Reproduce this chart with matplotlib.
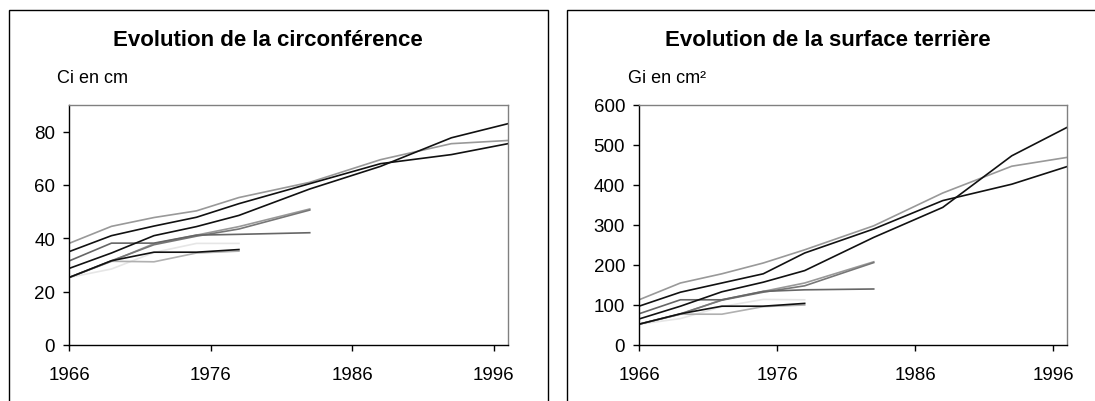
import matplotlib
matplotlib.use("Agg")
import matplotlib.pyplot as plt
from matplotlib.patches import Rectangle

plt.rcParams["font.family"] = ["Liberation Sans", "DejaVu Sans"]

# --- data -----------------------------------------------------------------
years = [1966, 1969, 1972, 1975, 1978, 1983, 1988, 1993, 1997]
series_names = ["A", "B", "C", "D", "E", "F", "G", "H", "I"]

circ_A = [38.1, 44.5, 47.8, 50.3, 55.3, 61.0, 69.5, 75.5, 76.7]
circ_B = [35.0, 41.0, 44.6, 47.9, 53.0, 60.5, 68.0, 71.4, 75.5]
circ_C = [28.7, 34.5, 41.0, 44.4, 48.6, 58.5, 67.0, 77.7, 83.0]
circ_D = [31.5, 38.2, 38.2, 41.2, 41.5, 42.1]
circ_E = [25.3, 31.4, 38.0, 41.2, 44.4, 51.0]
circ_F = [25.3, 31.6, 37.6, 40.8, 43.5, 50.6]
circ_G = [25.3, 31.6, 34.8, 34.8, 35.8]
circ_H = [25.3, 31.4, 31.2, 34.5, 35.2]
circ_I = [25.3, 28.5, 34.7, 38.1, 38.1]

surf_A = [113, 155, 178, 205, 238, 298, 380, 447, 469]
surf_B = [97, 132, 155, 178, 230, 290, 361, 402, 446]
surf_C = [65, 97, 133, 157, 186, 269, 344, 473, 544]
surf_D = [78, 113, 113, 134, 138, 140]
surf_E = [52, 77, 113, 134, 155, 208]
surf_F = [52, 78, 112, 132, 148, 206]
surf_G = [52, 78, 97, 97, 104]
surf_H = [52, 77, 77, 96, 100]
surf_I = [52, 66, 96, 114, 113]

# --- styles ---------------------------------------------------------------
# draw order: light lines underneath, black ones on top
draw_order = ["I", "H", "E", "F", "D", "A", "G", "B", "C"]
colors = {"A": "#999999", "B": "#111111", "C": "#111111", "D": "#666666",
          "E": "#999999", "F": "#777777", "G": "#111111", "H": "#b0b0b0",
          "I": "#e6e6e6"}

circ = dict(zip(series_names, [circ_A, circ_B, circ_C, circ_D, circ_E,
                               circ_F, circ_G, circ_H, circ_I]))
surf = dict(zip(series_names, [surf_A, surf_B, surf_C, surf_D, surf_E,
                               surf_F, surf_G, surf_H, surf_I]))

W, H = 1095, 402
fig = plt.figure(figsize=(W / 100, H / 100), dpi=100)
fig.patch.set_facecolor("white")


def px(x0, y0, x1, y1):
    """pixel box (top-left origin) -> figure fraction rect"""
    return [x0 / W, 1 - y1 / H, (x1 - x0) / W, (y1 - y0) / H]


def panel(rect, data, ymax, yticks, title, title_x, ylabel, ylabel_x,
          box_x0, box_x1):
    ax = fig.add_axes(rect)
    for k in draw_order:
        vals = data[k]
        ax.plot(years[:len(vals)], vals, color=colors[k], lw=1.2,
                solid_joinstyle="round")
    ax.set_xlim(1966, 1997)
    ax.set_ylim(0, ymax)
    ax.set_xticks([1966, 1976, 1986, 1996])
    ax.set_yticks(yticks)
    ax.tick_params(axis="both", labelsize=13.5, length=4, width=1,
                   color="black", direction="out")
    ax.tick_params(axis="y", pad=6)
    ax.tick_params(axis="x", pad=11)
    for s in ("top", "right"):
        ax.spines[s].set_color("#808080")
        ax.spines[s].set_linewidth(1.0)
    for s in ("left", "bottom"):
        ax.spines[s].set_color("black")
        ax.spines[s].set_linewidth(1.0)

    fig.text(title_x / W, 1 - 41 / H, title, ha="center", va="center",
             fontsize=16, fontweight="bold")
    fig.text(ylabel_x / W, 1 - 79 / H, ylabel, ha="left", va="center",
             fontsize=13)
    # outer chart frame (open at the bottom, like the source)
    fig.add_artist(Rectangle((box_x0 / W, -0.1), (box_x1 - box_x0) / W,
                             1.1 - 11 / H, transform=fig.transFigure,
                             fill=False, edgecolor="black", lw=1.0))
    return ax


panel(px(69, 106, 508, 346), circ, 90, [0, 20, 40, 60, 80],
      "Evolution de la circonférence", 268, "Ci en cm", 57, 9, 548)
panel(px(639, 106, 1067, 346), surf, 600, [0, 100, 200, 300, 400, 500, 600],
      "Evolution de la surface terrière", 828, "Gi en cm²", 628, 567, 1100)

fig.savefig("out.png", dpi=100, facecolor="white")
